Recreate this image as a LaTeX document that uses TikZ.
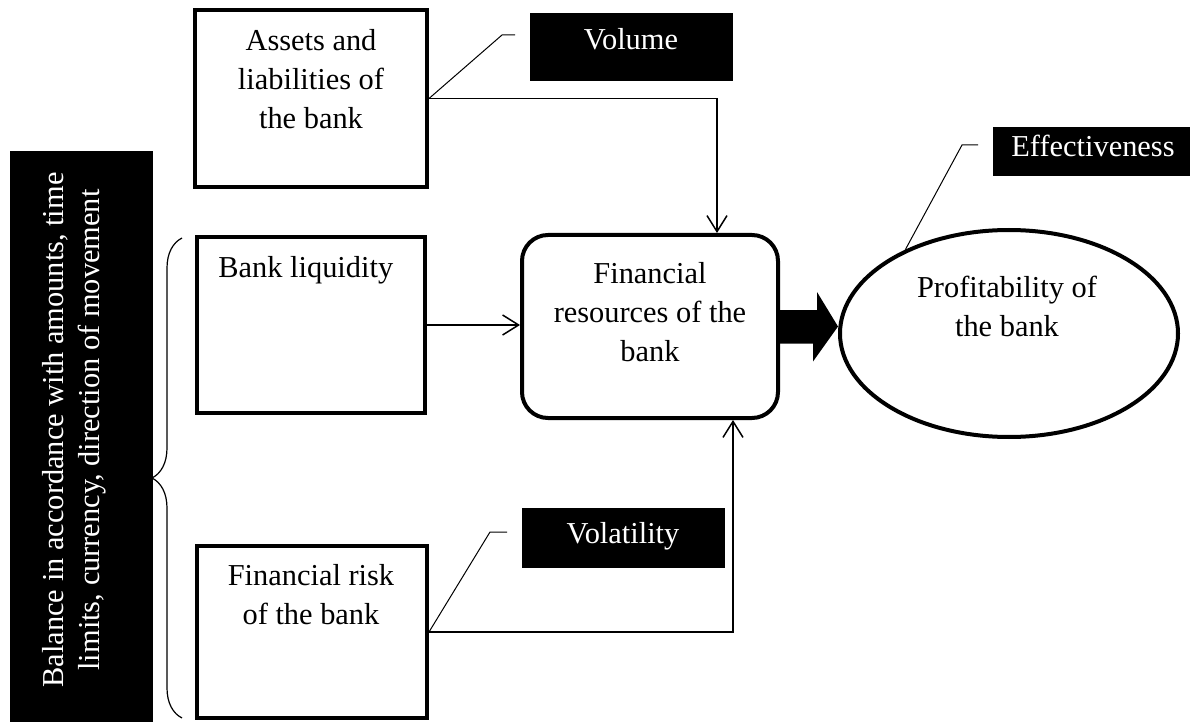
\documentclass[tikz,border=0pt]{standalone}
\usepackage{fontspec}
\setmainfont{Liberation Serif}
\usetikzlibrary{arrows.meta,decorations.pathreplacing,shapes.geometric}
\begin{document}
\begin{tikzpicture}[x=0.5pt,y=-0.5pt,
  txt/.style={font=\fontsize{15.2}{19.5}\selectfont, inner sep=0pt, align=center},
  wtxt/.style={txt, text=white},
  frame/.style={draw, line width=2pt, inner sep=0pt},
  blackbox/.style={fill=black, draw=black, inner sep=0pt},
  conn/.style={line width=0.75pt, -{Straight Barb[length=8pt,width=10pt]}},
  call/.style={line width=0.5pt}]
\useasboundingbox (0,0) rectangle (1190,722);

% boxes
\node[frame, minimum width=116pt, minimum height=88.5pt] (al) at (311,98.5) {};
\node[frame, minimum width=114pt, minimum height=88pt] (bl) at (311,325) {};
\node[frame, minimum width=115pt, minimum height=86pt] (frk) at (312,632) {};
\node[frame, rounded corners=13pt, minimum width=128pt, minimum height=91.5pt] (fr) at (650,326.5) {};
\node[frame, ellipse, minimum width=169pt, minimum height=103.5pt] (pr) at (1009,333.5) {};

% black label boxes
\node[blackbox, minimum width=101pt, minimum height=33.5pt] (vol) at (631,46.5) {};
\node[blackbox, minimum width=101pt, minimum height=29.5pt] (vlt) at (623,537.5) {};
\node[blackbox, minimum width=101pt, minimum height=24pt] (eff) at (1094,151) {};
\node[blackbox, minimum width=71pt, minimum height=289.5pt] (bal) at (81,440.5) {};

% texts
\node[txt, anchor=north] (alt) at (311,29) {Assets and\\liabilities of\\the bank};
\node[txt, anchor=base west] (blt) at (218,278) {Bank liquidity};
\node[txt, anchor=north] (frkt) at (311,564) {Financial risk\\of the bank};
\node[txt, anchor=north] (frt) at (650,262) {Financial\\resources of the\\bank};
\node[txt, anchor=north] (prt) at (1007,276) {Profitability of\\the bank};
\node[wtxt, anchor=base] (volt) at (631,50) {Volume};
\node[wtxt, anchor=base] (vltt) at (623,543) {Volatility};
\node[wtxt, anchor=base] (efft) at (1093,157) {Effectiveness};
\node[wtxt, rotate=90, font=\fontsize{15.2}{18}\selectfont] (balt) at (74,430)
  {Balance in accordance with amounts, time\\limits, currency, direction of movement};

% brace
\draw[line width=0.6pt, decorate, decoration={brace, amplitude=15pt, aspect=0.5}]
  (182,718) -- (182,238);

% connectors
\draw[conn] (al.east) -| ([xshift=33.5pt]fr.north);
\draw[conn] (bl.east) -- (bl.east -| fr.west);
\draw[conn] (frk.east) -| ([xshift=41.5pt]fr.south);

% big arrow
\fill (fr.east) ++(0,-16.5) -- ++(37,0) -- ++(0,-18) -- (fr.east -| pr.west)
  -- ++(-25,35) -- ++(0,-18) -- ++(-37,0) -- cycle;

% callouts
\coordinate (v1) at (502,35);
\coordinate (v2) at (515,35);
\draw[call] (al.east) -- (v1) -- (v2);
\coordinate (t1) at (490,532);
\coordinate (t2) at (507,532);
\draw[call] (frk.east) -- (t1) -- (t2);
\coordinate (e1) at (962,145);
\coordinate (e2) at (978,145);
\draw[call] (pr.141) -- (e1) -- (e2);
\end{tikzpicture}
\end{document}
